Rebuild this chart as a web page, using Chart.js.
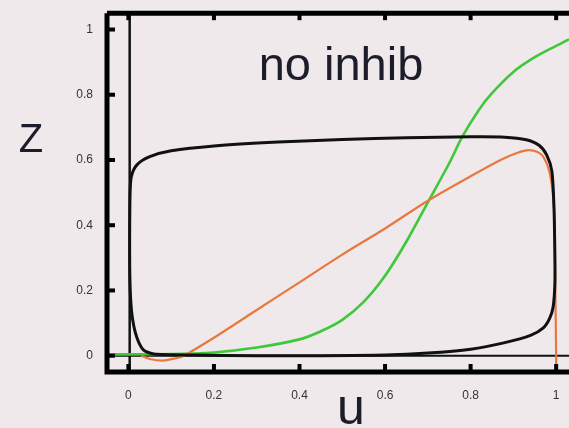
<!DOCTYPE html>
<html>
<head>
<meta charset="utf-8">
<title>no inhib</title>
<script src="https://cdn.jsdelivr.net/npm/chart.js@4.4.0/dist/chart.umd.min.js"></script>
<style>
  html, body { margin: 0; padding: 0; background: #efe9eb; overflow: hidden; }
  #wrap { width: 569px; height: 428px; }
</style>
</head>
<body>
<div id="wrap"><canvas id="phase" width="569" height="428"></canvas></div>
<script>
// Axis ticks
const xTicks = [0, 0.2, 0.4, 0.6, 0.8, 1];
const yTicks = [0, 0.2, 0.4, 0.6, 0.8, 1];

// Limit cycle (u, z), starting half way up the left side
const loopU = [0.003, 0.004, 0.007, 0.02, 0.05, 0.1, 0.2, 0.35, 0.5, 0.65, 0.8, 0.88, 0.93, 0.96, 0.978, 0.99, 0.995, 0.997, 0.997, 0.993, 0.985, 0.97, 0.94, 0.88, 0.8, 0.7, 0.6, 0.45, 0.3, 0.15, 0.06, 0.035, 0.02, 0.01, 0.005, 0.003, 0.003];
const loopZ = [0.4, 0.5, 0.55, 0.585, 0.61, 0.628, 0.643, 0.655, 0.663, 0.668, 0.671, 0.67, 0.662, 0.645, 0.615, 0.565, 0.45, 0.3, 0.22, 0.15, 0.115, 0.085, 0.062, 0.04, 0.02, 0.008, 0.002, 0, 0, 0.002, 0.005, 0.018, 0.055, 0.11, 0.18, 0.28, 0.4];

// Green sigmoid
const greenU = [-0.05, 0.1, 0.2, 0.3, 0.4, 0.45, 0.5, 0.55, 0.6, 0.65, 0.7, 0.75, 0.78, 0.82, 0.85, 0.9, 0.95, 1.0, 1.03];
const greenZ = [0.004, 0.005, 0.01, 0.025, 0.05, 0.075, 0.11, 0.165, 0.245, 0.35, 0.47, 0.59, 0.67, 0.755, 0.805, 0.87, 0.915, 0.95, 0.97];

// Orange curve
const orangeU = [0.03, 0.05, 0.08, 0.11, 0.13, 0.2, 0.3, 0.4, 0.5, 0.6, 0.7, 0.8, 0.87, 0.91, 0.935, 0.955, 0.97, 0.985, 0.995, 0.998, 1.0, 1.0];
const orangeZ = [0.0, -0.01, -0.015, -0.008, 0.0, 0.055, 0.14, 0.225, 0.31, 0.39, 0.475, 0.55, 0.6, 0.622, 0.63, 0.625, 0.61, 0.56, 0.45, 0.2, 0.0, -0.05];

// Reference lines u = 0 and z = 0
const vLineU = [0.003, 0.003];
const vLineZ = [-0.05, 1.05];
const hLineU = [-0.05, 1.03];
const hLineZ = [0, 0];

const pts = (us, zs) => us.map((u, i) => ({ x: u, y: zs[i] }));

Chart.defaults.font.family = '"Liberation Sans", Arial, sans-serif';

// frame, inward ticks and text labels
const framePlugin = {
  id: 'frame',
  beforeDraw(chart) {
    const c = chart.ctx;
    c.save();
    c.fillStyle = '#efe9eb';
    c.fillRect(0, 0, chart.width, chart.height);
    c.restore();
  },
  afterDraw(chart) {
    const c = chart.ctx;
    const a = chart.chartArea;
    const xs = chart.scales.x, ys = chart.scales.y;
    c.save();
    c.strokeStyle = '#000';
    c.lineWidth = 5;
    c.beginPath();
    c.moveTo(a.left, a.top);
    c.lineTo(a.right + 5, a.top);
    c.moveTo(a.left, a.top);
    c.lineTo(a.left, a.bottom);
    c.lineTo(a.right + 5, a.bottom);
    c.stroke();

    c.fillStyle = '#000';
    xTicks.forEach(v => {
      const px = xs.getPixelForValue(v);
      c.fillRect(px - 2, a.bottom - 8, 4, 8);
      c.fillRect(px - 2, a.top, 4, 7);
    });
    yTicks.forEach(v => {
      const py = ys.getPixelForValue(v);
      c.fillRect(a.left, py - 2, 8, 4);
    });

    c.fillStyle = '#1c1c2a';
    c.textBaseline = 'alphabetic';
    c.textAlign = 'center';
    c.font = '47px "Liberation Sans", Arial, sans-serif';
    c.fillText('no inhib', 341, 80);
    c.font = '40px "Liberation Sans", Arial, sans-serif';
    c.fillText('Z', 31, 152);
    c.font = '50px "Liberation Sans", Arial, sans-serif';
    c.fillText('u', 351, 424);
    c.restore();
  }
};

new Chart(document.getElementById('phase'), {
  type: 'scatter',
  data: {
    datasets: [
      { data: pts(loopU, loopZ), borderColor: '#111', borderWidth: 3, tension: 0.25 },
      { data: pts(orangeU, orangeZ), borderColor: '#e8783e', borderWidth: 2.2, tension: 0.3 },
      { data: pts(greenU, greenZ), borderColor: '#3ec83a', borderWidth: 2.6, tension: 0.3 },
      { data: pts(vLineU, vLineZ), borderColor: '#111', borderWidth: 2.5 },
      { data: pts(hLineU, hLineZ), borderColor: '#111', borderWidth: 2 }
    ].map(d => Object.assign({ showLine: true, pointRadius: 0, fill: false }, d))
  },
  options: {
    responsive: false,
    animation: false,
    layout: { padding: { top: 12, right: 0, left: 0, bottom: 0 } },
    plugins: { legend: { display: false }, tooltip: { enabled: false } },
    scales: {
      x: {
        type: 'linear', min: -0.05, max: 1.03,
        grid: { display: false }, border: { display: false },
        afterBuildTicks: s => { s.ticks = xTicks.map(v => ({ value: v })); },
        afterFit: s => { s.height = 56; },
        ticks: { padding: 8, color: '#333', font: { size: 12 }, callback: v => String(v) }
      },
      y: {
        type: 'linear', min: -0.05, max: 1.05,
        grid: { display: false }, border: { display: false },
        afterBuildTicks: s => { s.ticks = yTicks.map(v => ({ value: v })); },
        afterFit: s => { s.width = 107; },
        ticks: { padding: 6, color: '#333', font: { size: 12 }, callback: v => String(v) }
      }
    }
  },
  plugins: [framePlugin]
});
</script>
</body>
</html>
